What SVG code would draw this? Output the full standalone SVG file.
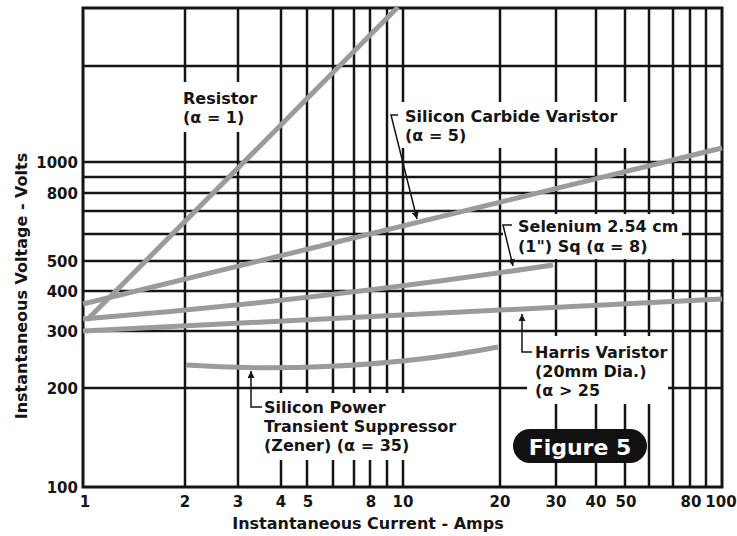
<svg xmlns="http://www.w3.org/2000/svg" width="737" height="536" viewBox="0 0 737 536">
<style>
.g{stroke:#151515;stroke-width:2.5;fill:none}
.c{stroke:#9b9b9b;stroke-width:5;fill:none;stroke-linecap:butt}
.ld{stroke:#151515;stroke-width:1.5;fill:none}
.t{font-family:"DejaVu Sans",sans-serif;font-weight:bold;font-size:16px;fill:#151515}
.n{font-family:"DejaVu Sans",sans-serif;font-weight:bold;font-size:15px;fill:#151515}
.nx{text-anchor:middle}
.ny{text-anchor:end}
</style>
<defs>
<marker id="arr" markerUnits="userSpaceOnUse" markerWidth="8" markerHeight="7" refX="7" refY="3.5" orient="auto">
<path d="M0,0 L7,3.5 L0,7 z" fill="#151515"/>
</marker>
</defs>
<rect width="737" height="536" fill="#ffffff"/>
<g id="grid" class="g">
<rect x="83" y="8" width="639" height="479" stroke-width="3"/>
<path d="M83,66H722 M83,162H722 M83,177H722 M83,193H722 M83,211H722 M83,234H503 M682,234H722 M83,261H722 M83,291H722 M83,331H722 M83,388H527 M668,388H722"/>
<path d="M185,8V82 M185,132V487 M238,8V82 M238,132V487"/>
<path d="M281,8V393 M281,460V487 M307,8V393 M307,460V487 M333,8V393 M333,460V487 M354,8V393 M354,460V487 M370,8V393 M370,460V487 M387,8V393 M387,460V487"/>
<path d="M403,8V102 M403,148V393 M403,460V487 M500,8V102 M500,148V487"/>
<path d="M556,8V102 M556,148V214 M556,259V336 M556,404V487 M596,8V102 M596,148V214 M596,259V336 M596,404V487 M625,8V102 M625,148V214 M625,259V336 M625,404V487"/>
<path d="M649,8V214 M649,259V336 M649,404V487 M673,8V214 M673,259V487 M690,8V487 M706,8V487"/>
</g>
<g id="curves">
<path id="resistor" class="c" d="M87,320 L398,7"/>
<path id="sic" class="c" d="M83,304 L722,148"/>
<path id="selenium" class="c" d="M83,319 Q320,300 553,265"/>
<path id="harris" class="c" d="M83,331 L722,299"/>
<path id="zener" class="c" d="M186,365 C260,370 380,370 498,347"/>
</g>
<g id="connectors" class="ld">
<path d="M398,115 L391,115 L417,219" marker-end="url(#arr)"/>
<path d="M512,225 L503,225 L513,266" marker-end="url(#arr)"/>
<path d="M532,352 L522,352 L522,314" marker-end="url(#arr)"/>
<path d="M262,407 L251,407 L251,371" marker-end="url(#arr)"/>
</g>
<g id="label-resistor" class="t">
<text x="183" y="104">Resistor</text>
<text x="183" y="123">(α = 1)</text>
</g>
<g id="label-sic" class="t">
<text x="405" y="122">Silicon Carbide Varistor</text>
<text x="405" y="141">(α = 5)</text>
</g>
<g id="label-selenium" class="t">
<text x="518" y="232">Selenium 2.54 cm</text>
<text x="518" y="252">(1") Sq (α = 8)</text>
</g>
<g id="label-harris" class="t">
<text x="535" y="358">Harris Varistor</text>
<text x="535" y="377">(20mm Dia.)</text>
<text x="535" y="396">(α &gt; 25</text>
</g>
<g id="label-zener" class="t">
<text x="264" y="413">Silicon Power</text>
<text x="264" y="432">Transient Suppressor</text>
<text x="264" y="451">(Zener) (α = 35)</text>
</g>
<g id="figure5">
<rect x="513" y="429" width="134" height="34" rx="17" fill="#111"/>
<text x="580" y="455" text-anchor="middle" font-family="DejaVu Sans, sans-serif" font-weight="bold" font-size="22" fill="#ffffff">Figure 5</text>
</g>
<g id="yticks" class="n ny">
<text x="78" y="168">1000</text>
<text x="78" y="199">800</text>
<text x="78" y="267">500</text>
<text x="78" y="297">400</text>
<text x="78" y="337">300</text>
<text x="78" y="394">200</text>
<text x="78" y="493">100</text>
</g>
<g id="xticks" class="n nx">
<text x="85" y="507">1</text>
<text x="185" y="507">2</text>
<text x="238" y="507">3</text>
<text x="281" y="507">4</text>
<text x="308" y="507">5</text>
<text x="371" y="507">8</text>
<text x="403" y="507">10</text>
<text x="500" y="507">20</text>
<text x="556" y="507">30</text>
<text x="596" y="507">40</text>
<text x="626" y="507">50</text>
<text x="691" y="507">80</text>
<text x="721" y="507">100</text>
</g>
<g id="axis-titles" class="t">
<text x="368" y="529" text-anchor="middle">Instantaneous Current - Amps</text>
<text transform="translate(27,286) rotate(-90)" text-anchor="middle">Instantaneous Voltage - Volts</text>
</g>
</svg>
